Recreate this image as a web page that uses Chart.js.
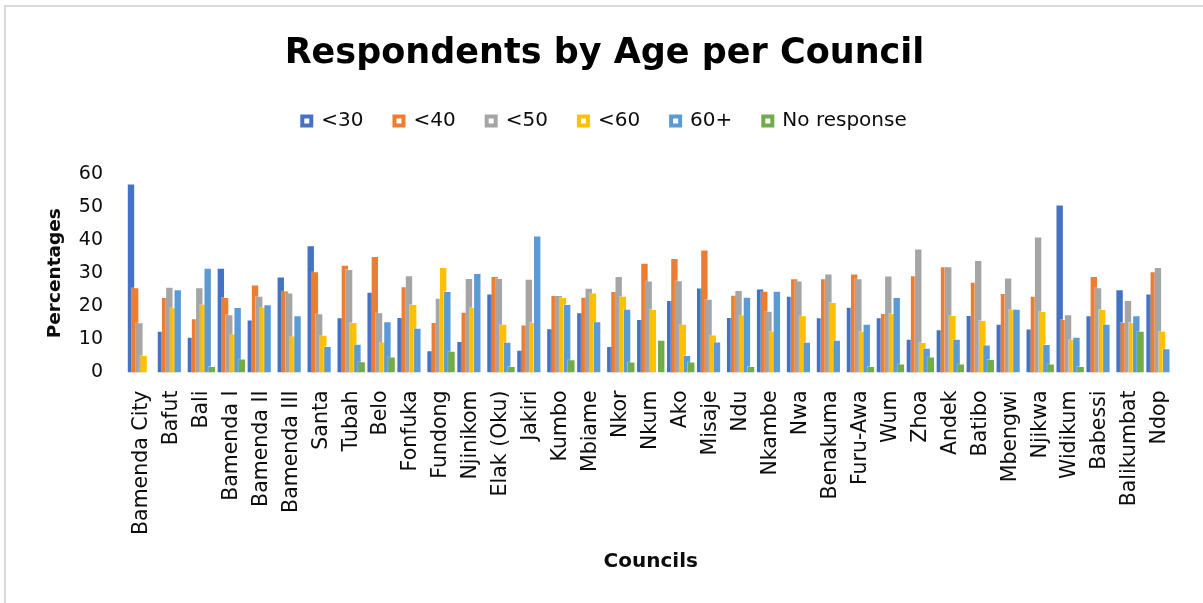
<!DOCTYPE html>
<html>
<head>
<meta charset="utf-8">
<script src="https://cdn.jsdelivr.net/npm/chart.js@4.4.1/dist/chart.umd.min.js"></script>
<style>
  html, body { margin: 0; padding: 0; background: #ffffff; overflow: hidden; }
  #wrap { position: relative; width: 1203px; height: 603px; }
  #frame { position: absolute; left: 4px; top: 5px; width: 1210px; height: 610px;
           border: 2px solid #d9d9d9; box-sizing: border-box; pointer-events: none; }
  #chart { position: absolute; left: 0; top: 0; }
</style>
</head>
<body>
<div id="wrap">
  <canvas id="chart" width="1203" height="603"></canvas>
  <div id="frame"></div>
</div>
<script>
const councils = ['Bamenda City', 'Bafut', 'Bali', 'Bamenda I', 'Bamenda II', 'Bamenda III',
  'Santa', 'Tubah', 'Belo', 'Fonfuka', 'Fundong', 'Njinikom', 'Elak (Oku)', 'Jakiri',
  'Kumbo', 'Mbiame', 'Nkor', 'Nkum', 'Ako', 'Misaje', 'Ndu', 'Nkambe', 'Nwa', 'Benakuma',
  'Furu-Awa', 'Wum', 'Zhoa', 'Andek', 'Batibo', 'Mbengwi', 'Njikwa', 'Widikum', 'Babessi',
  'Balikumbat', 'Ndop'];

const seriesNames = ['<30', '<40', '<50', '<60', '60+', 'No response'];

const under30 = [57.1, 12.6, 10.8, 31.7, 16.0, 29.0, 38.5, 16.7, 24.4, 16.8, 6.7, 9.5, 23.9, 6.9,
  13.4, 18.2, 8.0, 16.2, 21.9, 25.7, 16.8, 25.4, 23.2, 16.7, 19.9, 16.7, 10.2, 13.1, 17.4, 14.7,
  13.3, 50.8, 17.3, 25.2, 23.9];
const under40 = [25.8, 22.8, 16.4, 22.8, 26.6, 24.8, 30.6, 32.6, 35.2, 26.1, 15.3, 18.4, 29.2, 14.5,
  23.4, 22.9, 24.6, 33.2, 34.6, 37.2, 23.5, 24.7, 28.5, 28.5, 29.9, 18.0, 29.4, 32.1, 27.4, 24.0,
  23.2, 16.2, 29.2, 15.3, 30.6];
const under50 = [15.2, 25.9, 25.8, 17.6, 23.2, 24.2, 17.9, 31.3, 18.2, 29.4, 22.6, 28.6, 28.6, 28.3,
  23.4, 25.6, 29.2, 27.8, 27.9, 22.3, 24.9, 18.7, 27.8, 29.9, 28.5, 29.3, 37.5, 32.1, 34.0, 28.7,
  41.1, 17.6, 25.8, 21.9, 31.9];
const under60 = [5.3, 19.7, 20.8, 11.8, 19.9, 11.2, 11.4, 15.3, 9.4, 20.7, 31.9, 19.8, 14.7, 15.3,
  22.8, 24.2, 23.2, 19.2, 14.7, 11.5, 17.5, 12.6, 17.3, 21.3, 12.6, 18.0, 9.2, 17.4, 15.9, 19.3,
  18.6, 10.2, 19.2, 15.3, 12.6];
const over60 = [0, 25.2, 31.7, 19.8, 20.6, 17.3, 8.0, 8.7, 15.5, 13.5, 24.6, 30.1, 9.3, 41.4,
  20.7, 15.5, 19.3, 0, 5.3, 9.4, 22.9, 24.7, 9.3, 9.9, 14.7, 22.8, 7.5, 10.2, 8.5, 19.3,
  8.6, 10.8, 14.7, 17.3, 7.3];
const noResponse = [0, 0, 2.0, 4.2, 0, 0, 0, 3.4, 4.8, 0, 6.6, 0, 2.0, 0,
  4.0, 0, 3.3, 9.9, 3.3, 0, 2.0, 0, 0, 0, 2.0, 2.7, 4.8, 2.7, 4.1, 0,
  2.7, 2.0, 0, 12.6, 0];

const yTicks = [0, 10, 20, 30, 40, 50, 60];

const seriesValues = [under30, under40, under50, under60, over60, noResponse];
const seriesColors = ['#4472C4', '#ED7D31', '#A5A5A5', '#FFC000', '#5B9BD5', '#70AD47'];

const FONT = "'DejaVu Sans', 'Liberation Sans', sans-serif";
const INK = '#0d0d0d';

// Overlapping bars: later series are painted over earlier ones.
const paintInSeriesOrder = {
  id: 'paintInSeriesOrder',
  beforeDatasetsDraw(chart) {
    for (let i = 0; i < chart.data.datasets.length; i++) {
      const meta = chart.getDatasetMeta(i);
      if (chart.isDatasetVisible(i)) meta.controller.draw();
    }
    return false;
  }
};

new Chart(document.getElementById('chart'), {
  type: 'bar',
  data: {
    labels: councils,
    datasets: seriesNames.map((name, i) => ({
      label: name,
      data: seriesValues[i],
      backgroundColor: seriesColors[i],
      borderColor: 'rgba(255,255,255,0.35)',
      borderWidth: 1,
      categoryPercentage: 0.84,
      barPercentage: 2.0
    }))
  },
  options: {
    responsive: false,
    animation: false,
    devicePixelRatio: 1,
    layout: { padding: { top: 0, left: 6, right: 0, bottom: 10 } },
    plugins: {
      title: {
        display: true,
        text: 'Respondents by Age per Council',
        color: '#000000',
        font: { family: FONT, size: 35, weight: 'bold', lineHeight: 1.2 },
        padding: { top: 33, bottom: 5 }
      },
      subtitle: {
        display: true,
        text: '',
        weight: 500,
        font: { family: FONT, size: 10, lineHeight: 1.2 },
        padding: { top: 0, bottom: 21 }
      },
      legend: {
        display: true,
        position: 'top',
        labels: {
          color: INK,
          font: { family: FONT, size: 20 },
          boxWidth: 9,
          boxHeight: 9,
          padding: 31,
          generateLabels(chart) {
            return chart.data.datasets.map((ds, i) => ({
              text: ds.label,
              fillStyle: '#ffffff',
              strokeStyle: ds.backgroundColor,
              lineWidth: 4,
              fontColor: INK,
              hidden: !chart.isDatasetVisible(i),
              datasetIndex: i
            }));
          }
        }
      },
      tooltip: { enabled: false }
    },
    scales: {
      x: {
        grid: { display: false, drawTicks: false },
        border: { display: false },
        ticks: {
          autoSkip: false,
          maxRotation: 90,
          minRotation: 90,
          padding: 18,
          color: INK,
          font: { family: FONT, size: 20.5 }
        },
        title: {
          display: true,
          text: 'Councils',
          color: INK,
          font: { family: FONT, size: 20, weight: 'bold', lineHeight: 1.2 },
          padding: { top: 0, bottom: 19 }
        },
        afterFit(scale) { scale.height = 220.5; }
      },
      y: {
        min: 0,
        max: 60,
        grid: { display: false, drawTicks: false },
        border: { display: false },
        afterBuildTicks(scale) { scale.ticks = yTicks.map(v => ({ value: v })); },
        ticks: {
          padding: 23.5,
          color: INK,
          font: { family: FONT, size: 19 }
        },
        title: {
          display: true,
          text: 'Percentages',
          color: INK,
          font: { family: FONT, size: 18.5, weight: 'bold', lineHeight: 1.2 },
          padding: { top: 38, bottom: 0 }
        },
        afterFit(scale) { scale.width = 120.5; }
      },
      // empty margin on the right of the plot
      yRight: {
        type: 'linear',
        position: 'right',
        display: true,
        grid: { display: false, drawTicks: false },
        border: { display: false },
        ticks: { display: false },
        afterFit(scale) { scale.width = 26.5; }
      }
    }
  },
  plugins: [paintInSeriesOrder]
});
</script>
</body>
</html>
